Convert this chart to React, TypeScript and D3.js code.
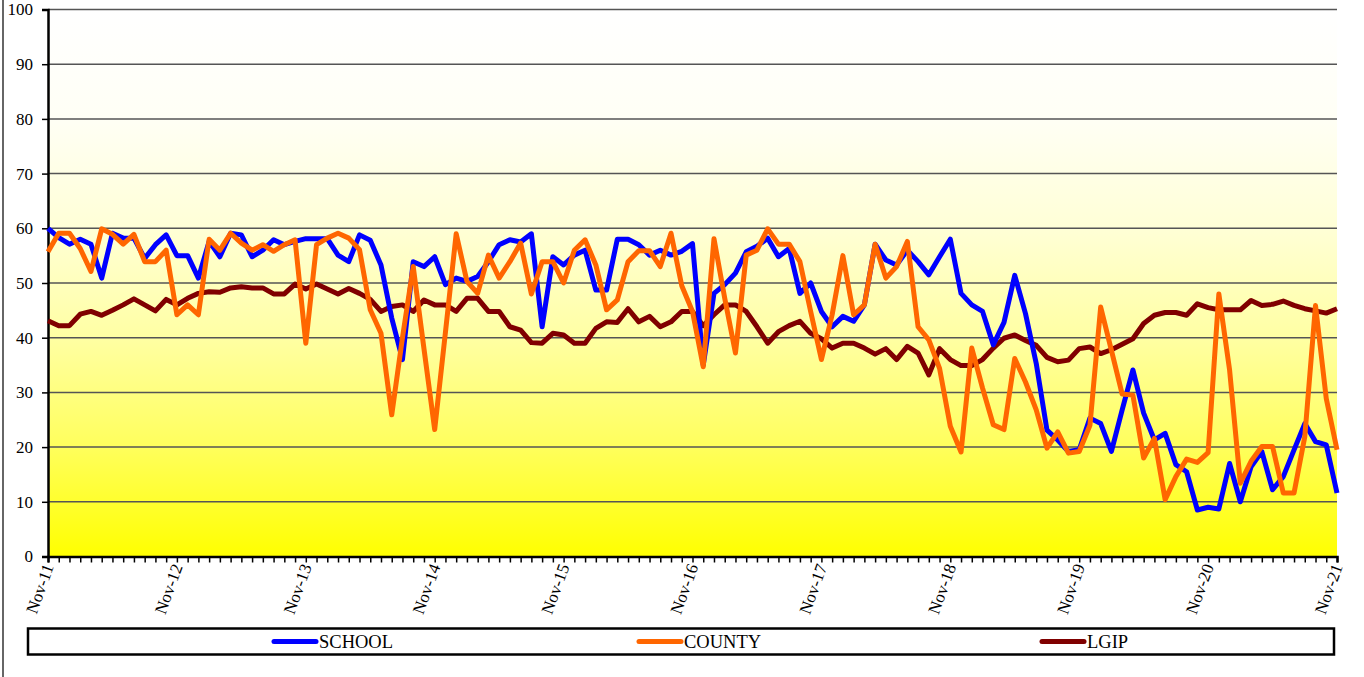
import React, { useEffect, useRef } from "react";
import * as d3 from "d3";

// monthly values, Nov-11 .. Nov-21 (121 months)
const school = [
  60, 58.3, 57.1, 58, 57.1, 50.9, 59.1, 58.2, 58.2, 54.5, 57, 58.8,
  55, 55, 50.9, 57.6, 54.8, 59.1, 58.8, 54.8, 56, 57.9, 57, 57.6,
  58.1, 58.1, 58.1, 55.1, 53.9, 58.8, 57.8, 53.3, 43.6, 36, 53.9, 53,
  54.8, 49.7, 50.9, 50.3, 51.2, 53.9, 57, 57.9, 57.5, 59, 42, 54.8,
  53.3, 55.1, 56, 48.7, 48.7, 58, 58, 57, 55.1, 56, 55.1, 55.8,
  57.2, 35, 48.1, 49.7, 51.8, 55.7, 56.7, 58.2, 54.8, 56.3, 48.1, 50,
  44.8, 42, 43.9, 43, 46, 57.1, 54.2, 53.3, 56, 53.9, 51.5, 54.8,
  58, 48.1, 46, 44.8, 38.7, 42.8, 51.4, 44.4, 35.3, 23.1, 21.3, 19.2,
  19.5, 25.3, 24.3, 19.2, 26.8, 34.1, 26.2, 21.3, 22.5, 16.8, 15.5, 8.5,
  9, 8.7, 17, 10, 16.4, 19.2, 12.2, 14.6, 19.5, 24.3, 21, 20.4,
  11.6,
];

const county = [
  55.7, 59.1, 59.1, 56.3, 52.1, 59.9, 58.9, 57.1, 58.9, 53.9, 53.9, 56,
  44.2, 46, 44.2, 58, 56, 59.1, 57.3, 56, 57, 55.8, 57, 57.9,
  39, 57, 58.2, 59.1, 58.2, 56.1, 45.1, 40.8, 25.9, 40, 53, 38,
  23.2, 41, 59, 50.3, 48.1, 55.1, 50.9, 53.9, 57.3, 48, 53.9, 53.9,
  50, 56, 57.9, 53.3, 45.1, 46.9, 53.9, 55.9, 55.9, 53, 59.1, 49.5,
  44.8, 34.7, 58.1, 47.2, 37.2, 55.1, 56, 59.9, 57.1, 57.1, 53.9, 44.8,
  36, 44.2, 55, 44.2, 46, 57.1, 50.9, 53, 57.6, 42, 39.6, 34.4,
  23.8, 19.1, 38.1, 30.8, 24.1, 23.2, 36.2, 31.9, 26.8, 19.8, 22.8, 18.9,
  19.2, 24, 45.6, 37.7, 29.7, 29.5, 18, 21.6, 10.4, 14.6, 17.8, 17.2,
  19, 48, 34.1, 13.4, 17.4, 20.1, 20.1, 11.6, 11.6, 21.9, 45.9, 28.9,
  19.5,
];

const lgip = [
  43.1, 42.2, 42.2, 44.3, 44.8, 44.1, 45, 46, 47.1, 46, 44.9, 47,
  46, 47.2, 48.1, 48.4, 48.3, 49.1, 49.3, 49.1, 49.1, 48, 48, 49.8,
  48.9, 49.8, 48.9, 48, 49, 48.1, 47, 44.8, 45.7, 46, 44.8, 46.9,
  46, 46, 44.8, 47.2, 47.2, 44.8, 44.8, 42, 41.4, 39.1, 39, 40.8,
  40.5, 39, 39, 41.7, 42.9, 42.8, 45.3, 42.9, 43.9, 42, 42.9, 44.8,
  44.8, 42.2, 44.2, 46, 46, 44.8, 42, 39, 41.1, 42.2, 43, 40.8,
  39.8, 38.1, 39, 39, 38.1, 37, 38, 36, 38.4, 37.2, 33.2, 38,
  36, 34.9, 34.9, 36, 38.1, 39.9, 40.5, 39.5, 38.6, 36.4, 35.6, 35.9,
  38, 38.3, 37.1, 37.8, 38.8, 39.8, 42.6, 44.1, 44.6, 44.6, 44.1, 46.2,
  45.5, 45.1, 45.1, 45.1, 46.8, 45.9, 46.1, 46.7, 45.9, 45.3, 44.9, 44.5,
  45.3,
];

const yearLabels = [
  "Nov-11", "Nov-12", "Nov-13", "Nov-14", "Nov-15", "Nov-16",
  "Nov-17", "Nov-18", "Nov-19", "Nov-20", "Nov-21",
];
const yTicks = [0, 10, 20, 30, 40, 50, 60, 70, 80, 90, 100];

const seriesNames = ["SCHOOL", "COUNTY", "LGIP"];
const seriesColors = ["#0000ff", "#ff6600", "#800000"];

export default function App() {
  const ref = useRef<SVGSVGElement>(null);

  useEffect(() => {
    const svg = d3.select(ref.current);
    svg.selectAll("*").remove();

    const left = 48,
      right = 1337,
      top = 9.5,
      bottom = 556.5;
    const font = "'Liberation Serif', 'Times New Roman', serif";

    const x = d3.scaleLinear().domain([0, 120]).range([left, right]);
    const y = d3.scaleLinear().domain([0, 100]).range([bottom, top]);

    // outer frame line
    svg
      .append("line")
      .attr("x1", 3)
      .attr("x2", 3)
      .attr("y1", 0)
      .attr("y2", 677)
      .attr("stroke", "#333")
      .attr("stroke-width", 1.5);

    // white -> yellow, fading faster near the bottom
    const grad = svg
      .append("defs")
      .append("linearGradient")
      .attr("id", "bg")
      .attr("x1", 0)
      .attr("x2", 0)
      .attr("y1", 0)
      .attr("y2", 1);
    [0, 0.2, 0.4, 0.6, 0.8, 1].forEach((t) => {
      const b = Math.round(255 * (1 - t * t));
      grad
        .append("stop")
        .attr("offset", t)
        .attr("stop-color", `rgb(255,255,${b})`);
    });

    svg
      .append("rect")
      .attr("x", left)
      .attr("y", top)
      .attr("width", right - left)
      .attr("height", bottom - top)
      .attr("fill", "url(#bg)");

    // gridlines
    svg
      .append("g")
      .selectAll("line")
      .data(yTicks.slice(1))
      .enter()
      .append("line")
      .attr("x1", left)
      .attr("x2", right)
      .attr("y1", (d) => y(d))
      .attr("y2", (d) => y(d))
      .attr("stroke", "#555")
      .attr("stroke-width", 1.5);

    // y axis
    const yAxis = svg
      .append("g")
      .attr("transform", `translate(${left},0)`)
      .call(d3.axisLeft(y).tickValues(yTicks).tickSize(6).tickPadding(9));
    yAxis.select(".domain").attr("stroke", "#000").attr("stroke-width", 2.5);
    yAxis.selectAll(".tick line").attr("stroke", "#000").attr("stroke-width", 1.5);
    yAxis
      .selectAll(".tick text")
      .attr("font-family", font)
      .attr("font-size", 17)
      .attr("fill", "#000");

    // x axis, a tick each month
    const xAxis = svg
      .append("g")
      .attr("transform", `translate(0,${bottom})`)
      .call(
        d3
          .axisBottom(x)
          .tickValues(d3.range(0, 121))
          .tickSize(6)
          .tickFormat(() => "")
      );
    xAxis.select(".domain").attr("stroke", "#000").attr("stroke-width", 2.5);
    xAxis.selectAll(".tick line").attr("stroke", "#000").attr("stroke-width", 1.5);

    svg
      .append("g")
      .selectAll("text")
      .data(yearLabels)
      .enter()
      .append("text")
      .attr("transform", (d, i) => `translate(${x(i * 12) + 6},${bottom + 10}) rotate(-70)`)
      .attr("text-anchor", "end")
      .attr("font-family", font)
      .attr("font-size", 17)
      .text((d) => d);

    const line = d3
      .line<number>()
      .x((d, i) => x(i))
      .y((d) => y(d));

    const order = [2, 0, 1];
    const allSeries = [school, county, lgip];
    order.forEach((k) => {
      svg
        .append("path")
        .datum(allSeries[k])
        .attr("d", line)
        .attr("fill", "none")
        .attr("stroke", seriesColors[k])
        .attr("stroke-width", 5)
        .attr("stroke-linejoin", "round");
    });

    // legend
    svg
      .append("rect")
      .attr("x", 28)
      .attr("y", 628.5)
      .attr("width", 1306)
      .attr("height", 26)
      .attr("fill", "#fff")
      .attr("stroke", "#000")
      .attr("stroke-width", 2.5);

    const legendX = [272, 637, 1040];
    seriesNames.forEach((name, k) => {
      svg
        .append("line")
        .attr("x1", legendX[k] + 2)
        .attr("x2", legendX[k] + 44)
        .attr("y1", 641.5)
        .attr("y2", 641.5)
        .attr("stroke", seriesColors[k])
        .attr("stroke-width", 5)
        .attr("stroke-linecap", "round");
      svg
        .append("text")
        .attr("x", legendX[k] + 47)
        .attr("y", 648)
        .attr("font-family", font)
        .attr("font-size", 18.5)
        .text(name);
    });
  }, []);

  return (
    <svg
      ref={ref}
      width={1364}
      height={677}
      style={{ position: "absolute", left: 0, top: 0 }}
    ></svg>
  );
}
